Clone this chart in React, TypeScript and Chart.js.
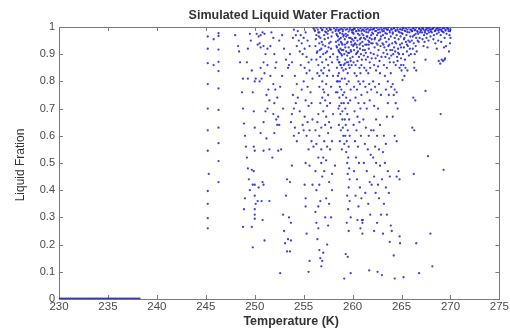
import { useEffect, useRef } from 'react';
import { Chart, registerables } from 'chart.js';

Chart.register(...registerables);

type P = [number, number];

const xTickValues = [230, 235, 240, 245, 250, 255, 260, 265, 270, 275];
const yTickValues = [0, 0.1, 0.2, 0.3, 0.4, 0.5, 0.6, 0.7, 0.8, 0.9, 1];
const yTickLabels = ['0', '0.1', '0.2', '0.3', '0.4', '0.5', '0.6', '0.7', '0.8', '0.9', '1'];

const chartTitle = 'Simulated Liquid Water Fraction';
const xTitle = 'Temperature (K)';
const yTitle = 'Liquid Fration';

// fully frozen samples (fraction 0)
const frozenTemps = [230.0, 230.2, 230.4, 230.6, 230.8, 231.0, 231.2, 231.4, 231.6, 231.8, 232.0, 232.2, 232.4, 232.6, 232.8, 233.0, 233.2, 233.4, 233.6, 233.8, 234.0, 234.2, 234.4, 234.6, 234.8, 235.0, 235.2, 235.4, 235.6, 235.8, 236.0, 236.2, 236.4, 236.6, 236.8, 237.0, 237.2, 237.4, 237.6, 237.8, 238.0, 238.2];

const band245: P[] = [[245.2,0.965],[245.2,0.92],[245.2,0.867],[245.2,0.79],[245.2,0.70],[245.2,0.62],[245.2,0.545],[245.3,0.46],[245.2,0.397],[245.2,0.35],[245.2,0.297],[245.2,0.26],[246.3,0.977],[246.3,0.967],[246.3,0.917],[246.3,0.872],[246.3,0.838],[246.3,0.774],[246.3,0.695],[246.3,0.63],[246.3,0.573],[246.3,0.507],[246.3,0.43],[245.8,0.955],[245.8,0.86]];

const band248: P[] = [[248.0,0.97],[248.3,0.93],[248.4,0.91],[248.5,0.87],[248.8,0.81],[248.7,0.76],[248.8,0.70],[248.9,0.645],[249.0,0.60],[249.1,0.56],[249.2,0.52],[249.3,0.48],[249.4,0.44],[249.5,0.40],[249.0,0.37],[248.9,0.33],[248.8,0.265],[249.7,0.265],[249.8,0.19],[249.2,0.87],[249.3,0.81],[249.5,0.975],[249.6,0.95],[249.3,0.92],[249.7,0.84],[249.8,0.76],[250.0,0.80],[250.1,0.81],[249.9,0.69],[250.0,0.63],[249.9,0.56],[250.0,0.545],[249.7,0.475],[249.9,0.47],[249.8,0.42],[250.0,0.42],[250.0,0.38],[250.1,0.35],[250.0,0.33],[250.0,0.31],[250.0,0.295],[250.3,0.36],[250.4,0.41],[250.8,0.43],[250.9,0.42],[250.8,0.29],[250.7,0.36],[251.5,0.36],[250.2,0.975],[250.4,0.965],[250.6,0.97],[250.8,0.98],[251.0,0.975],[250.5,0.94],[250.3,0.935],[250.6,0.925],[250.9,0.93],[251.1,0.9],[251.3,0.92],[251.6,0.93],[250.9,0.87],[250.6,0.85],[251.3,0.86],[251.0,0.83],[250.5,0.8],[250.7,0.81],[251.6,0.82],[251.2,0.75],[251.4,0.77],[251.5,0.73],[251.3,0.7],[251.1,0.69],[250.9,0.65],[250.6,0.61],[251.2,0.59],[250.9,0.545],[251.5,0.55],[251.0,0.215],[251.7,0.98],[251.9,0.96],[252.0,0.9],[252.1,0.85],[252.2,0.87],[251.9,0.79],[252.1,0.77],[252.3,0.74],[252.0,0.72],[251.9,0.68],[252.2,0.66],[252.3,0.64],[252.5,0.64],[252.4,0.67],[252.0,0.61],[252.4,0.545],[251.8,0.52],[252.7,0.55],[252.8,0.82],[252.6,0.78],[252.9,0.7],[252.5,0.95],[252.8,0.97],[253.0,0.92]];

const band253: P[] = [[252.6,0.095],[253.1,0.205],[253.3,0.175],[253.6,0.175],[253.4,0.22],[253.7,0.215],[252.9,0.31],[253.2,0.38],[253.0,0.25],[253.5,0.3],[253.7,0.28],[253.3,0.44],[253.6,0.43],[253.8,0.49],[253.5,0.86],[253.8,0.87],[253.6,0.9],[253.9,0.96],[253.2,0.88],[253.4,0.85],[254.1,0.82],[254.3,0.79],[253.9,0.75],[254.0,0.7],[254.2,0.72],[253.8,0.68],[254.4,0.74],[254.6,0.69],[254.1,0.63],[254.5,0.61],[254.9,0.64],[254.3,0.58],[254.0,0.6],[253.7,0.65],[254.0,0.99],[254.2,0.97],[254.4,0.985],[254.5,0.95],[254.7,0.97],[254.8,0.94],[254.3,0.93],[254.6,0.91],[254.9,0.9],[255.1,0.92],[255.0,0.96],[255.2,0.98],[255.4,0.95],[255.6,0.93],[255.3,0.89],[255.5,0.87],[255.8,0.88],[255.1,0.85],[254.7,0.86],[255.3,0.83],[255.6,0.84],[255.9,0.81],[255.0,0.8],[255.4,0.78],[255.7,0.76],[254.8,0.77],[255.2,0.73],[255.5,0.71],[255.8,0.72],[255.1,0.67],[255.4,0.65],[255.9,0.66],[255.6,0.62],[255.3,0.6],[255.8,0.58],[255.5,0.55],[255.2,0.5],[255.6,0.49],[255.0,0.62],[255.1,0.42],[255.2,0.37],[255.2,0.34],[255.3,0.24],[255.6,0.14],[255.5,0.1],[255.9,0.42],[256.0,0.56]];

const band256: P[] = [[256.2,0.32],[256.3,0.28],[256.5,0.26],[256.4,0.22],[256.6,0.18],[256.7,0.15],[256.8,0.12],[256.9,0.14],[257.0,0.17],[257.4,0.2],[256.5,0.34],[256.7,0.36],[256.3,0.4],[256.6,0.42],[256.9,0.45],[257.1,0.47],[256.8,0.5],[257.2,0.3],[257.5,0.27],[257.8,0.3],[257.6,0.35],[257.3,0.37],[257.9,0.4],[257.6,0.43],[257.9,0.46],[258.2,0.49],[256.2,0.62],[256.4,0.65],[256.6,0.6],[256.8,0.63],[256.5,0.68],[256.7,0.72],[256.9,0.74],[257.0,0.77],[256.6,0.78],[256.9,0.8],[257.1,0.76],[257.3,0.79],[257.2,0.73],[257.4,0.71],[257.5,0.75],[257.7,0.72],[257.3,0.67],[257.6,0.65],[257.0,0.69],[257.2,0.64],[257.5,0.61],[257.8,0.63],[257.1,0.58],[257.4,0.56],[257.7,0.55],[257.9,0.58],[258.0,0.68],[257.8,0.78],[258.0,0.82],[256.8,0.55],[256.5,0.52],[257.0,0.52],[257.3,0.51],[256.3,0.57],[256.2,0.47],[256.1,0.99],[256.3,0.97],[256.5,0.98],[256.7,0.96],[256.9,0.99],[257.1,0.97],[257.3,0.98],[257.5,0.96],[257.7,0.99],[256.2,0.93],[256.4,0.91],[256.6,0.94],[256.8,0.92],[257.0,0.9],[257.2,0.93],[257.4,0.91],[257.6,0.94],[257.8,0.92],[256.3,0.88],[256.5,0.86],[256.7,0.89],[256.9,0.87],[257.1,0.85],[257.3,0.88],[257.5,0.86],[257.7,0.89],[257.9,0.87],[256.4,0.83],[256.6,0.82],[256.8,0.84],[257.0,0.83],[257.4,0.82],[257.6,0.84],[258.0,0.9]];

const band258: P[] = [[258.3,0.99],[258.4,0.97],[258.5,0.95],[258.35,0.93],[258.6,0.91],[258.45,0.89],[258.7,0.99],[258.8,0.96],[258.55,0.985],[258.9,0.94],[258.75,0.92],[258.65,0.87],[258.85,0.9],[258.95,0.975],[258.4,0.85],[258.6,0.83],[258.8,0.86],[258.5,0.8],[258.7,0.78],[258.9,0.81],[258.45,0.76],[258.65,0.74],[258.85,0.72],[258.55,0.7],[258.75,0.68],[258.95,0.66],[258.6,0.64],[258.8,0.62],[258.7,0.58],[258.9,0.55]];

const band259: P[] = [[259.0,0.99],[259.1,0.97],[259.2,0.955],[259.3,0.99],[259.4,0.94],[259.5,0.97],[259.6,0.925],[259.7,0.99],[259.8,0.96],[259.9,0.935],[259.05,0.915],[259.15,0.9],[259.25,0.88],[259.35,0.91],[259.45,0.895],[259.55,0.87],[259.65,0.905],[259.75,0.885],[259.85,0.91],[259.95,0.98],[259.1,0.86],[259.3,0.845],[259.5,0.83],[259.7,0.85],[259.9,0.86],[259.2,0.81],[259.4,0.79],[259.6,0.8],[259.8,0.77],[259.15,0.76],[259.35,0.74],[259.55,0.72],[259.75,0.73],[259.25,0.7],[259.45,0.68],[259.65,0.66],[259.3,0.64],[259.5,0.62],[259.7,0.6],[259.4,0.58],[259.6,0.56],[259.35,0.54],[259.55,0.52],[259.45,0.5],[259.65,0.48],[259.5,0.46],[259.7,0.44],[259.6,0.41],[259.45,0.38],[259.7,0.36],[259.55,0.33],[259.8,0.3],[259.4,0.28],[259.6,0.25],[259.3,0.165],[259.5,0.155],[259.15,0.075],[259.8,0.095]];

const band260: P[] = [[260.0,0.99],[260.1,0.975],[260.2,0.995],[260.3,0.96],[260.4,0.985],[260.5,0.95],[260.6,0.99],[260.7,0.97],[260.8,0.94],[260.9,0.985],[260.05,0.93],[260.15,0.915],[260.25,0.94],[260.35,0.9],[260.45,0.925],[260.55,0.91],[260.65,0.89],[260.75,0.92],[260.85,0.9],[260.95,0.88],[260.1,0.87],[260.3,0.86],[260.5,0.875],[260.7,0.85],[260.9,0.86],[260.2,0.83],[260.4,0.82],[260.6,0.8],[260.8,0.83],[260.15,0.78],[260.45,0.77],[260.75,0.79],[260.3,0.74],[260.6,0.72],[260.9,0.75],[260.2,0.69],[260.5,0.67],[260.8,0.7],[260.1,0.64],[260.4,0.62],[260.7,0.65],[260.25,0.58],[260.55,0.56],[260.85,0.6],[260.35,0.52],[260.65,0.5],[260.15,0.47],[260.45,0.44],[260.75,0.41],[260.3,0.38],[260.6,0.34],[260.9,0.37],[260.5,0.29],[260.8,0.26],[260.95,0.29],[261.0,0.24]];

const band261: P[] = [[261.0,0.99],[261.1,0.97],[261.2,0.985],[261.3,0.955],[261.4,0.99],[261.5,0.965],[261.6,0.98],[261.7,0.945],[261.8,0.99],[261.9,0.97],[261.05,0.93],[261.25,0.915],[261.45,0.935],[261.65,0.92],[261.85,0.905],[261.15,0.895],[261.35,0.88],[261.55,0.89],[261.75,0.87],[261.95,0.885],[261.2,0.85],[261.4,0.84],[261.6,0.83],[261.8,0.85],[261.1,0.8],[261.3,0.78],[261.5,0.76],[261.7,0.79],[261.9,0.77],[261.2,0.72],[261.45,0.7],[261.75,0.73],[261.1,0.66],[261.35,0.63],[261.65,0.6],[261.9,0.62],[261.25,0.57],[261.55,0.55],[261.85,0.53],[261.15,0.5],[261.45,0.47],[261.75,0.43],[261.95,0.42],[261.3,0.39],[261.6,0.35],[261.8,0.31],[261.0,0.28],[261.05,0.29],[261.7,0.105]];

const band262: P[] = [[262.0,0.99],[262.1,0.975],[262.2,0.995],[262.3,0.96],[262.4,0.985],[262.5,0.97],[262.6,0.99],[262.7,0.95],[262.8,0.98],[262.9,0.965],[262.05,0.94],[262.25,0.925],[262.45,0.94],[262.65,0.915],[262.85,0.93],[262.15,0.9],[262.35,0.885],[262.55,0.895],[262.75,0.875],[262.95,0.89],[262.2,0.86],[262.4,0.84],[262.6,0.855],[262.8,0.83],[262.1,0.8],[262.3,0.78],[262.5,0.76],[262.7,0.79],[262.9,0.75],[262.2,0.71],[262.6,0.7],[262.4,0.66],[262.8,0.64],[262.15,0.62],[262.5,0.6],[262.3,0.56],[262.7,0.55],[262.1,0.52],[262.4,0.5],[262.8,0.49],[262.2,0.45],[262.6,0.42],[262.35,0.39],[262.7,0.37],[262.9,0.31],[262.5,0.28],[262.2,0.25],[262.55,0.1],[263.0,0.088]];

const band263: P[] = [[263.0,0.99],[263.1,0.97],[263.2,0.985],[263.3,0.96],[263.4,0.995],[263.5,0.975],[263.6,0.99],[263.7,0.955],[263.8,0.98],[263.9,0.965],[263.05,0.94],[263.25,0.925],[263.45,0.945],[263.65,0.93],[263.85,0.915],[263.15,0.905],[263.35,0.89],[263.55,0.9],[263.75,0.885],[263.95,0.895],[263.2,0.86],[263.5,0.85],[263.8,0.87],[263.3,0.82],[263.6,0.8],[263.9,0.83],[263.4,0.77],[263.7,0.75],[263.95,0.78],[263.6,0.72],[263.5,0.67],[263.2,0.6],[263.4,0.57],[263.1,0.54],[263.3,0.5],[263.6,0.47],[263.0,0.44],[263.8,0.45],[263.4,0.41],[263.7,0.39],[263.2,0.35],[263.5,0.31],[263.9,0.27],[263.1,0.24],[263.8,0.21]];

const band264: P[] = [[264.0,0.99],[264.1,0.975],[264.2,0.995],[264.3,0.96],[264.4,0.985],[264.5,0.97],[264.6,0.99],[264.7,0.955],[264.8,0.98],[264.9,0.965],[264.05,0.94],[264.25,0.925],[264.45,0.94],[264.65,0.92],[264.85,0.935],[264.15,0.9],[264.35,0.91],[264.55,0.89],[264.75,0.9],[264.95,0.885],[264.2,0.87],[264.4,0.86],[264.6,0.875],[264.8,0.85],[264.95,0.86],[264.1,0.79],[264.3,0.77],[264.5,0.76],[264.2,0.75],[264.4,0.72],[264.6,0.7],[264.1,0.67],[264.3,0.6],[264.5,0.58],[264.7,0.47],[264.8,0.44],[264.5,0.45],[264.0,0.25],[264.2,0.16],[264.3,0.075],[264.8,0.23],[264.85,0.205]];

const band265: P[] = [[265.0,0.99],[265.1,0.975],[265.2,0.995],[265.3,0.96],[265.4,0.985],[265.5,0.97],[265.6,0.99],[265.7,0.95],[265.8,0.98],[265.9,0.965],[265.05,0.94],[265.25,0.925],[265.45,0.945],[265.65,0.93],[265.85,0.92],[265.15,0.9],[265.35,0.88],[265.55,0.91],[265.75,0.895],[265.95,0.9],[265.2,0.86],[265.4,0.85],[265.6,0.84],[265.3,0.82],[265.1,0.805],[265.2,0.08],[265.0,0.84]];

const band266: P[] = [[266.0,0.99],[266.1,0.985],[266.2,0.995],[266.3,0.97],[266.4,0.99],[266.5,0.96],[266.6,0.985],[266.7,0.975],[266.8,0.995],[266.9,0.98],[266.05,0.95],[266.25,0.94],[266.45,0.93],[266.65,0.95],[266.85,0.96],[266.15,0.92],[266.35,0.9],[266.55,0.91],[266.3,0.87],[266.5,0.84],[266.3,0.85],[266.2,0.74],[266.4,0.73],[266.1,0.63],[266.3,0.62],[266.25,0.46],[266.5,0.205],[266.8,0.095]];

const band267: P[] = [[267.0,0.99],[267.1,0.98],[267.2,0.995],[267.3,0.97],[267.4,0.985],[267.5,0.99],[267.6,0.975],[267.7,0.995],[267.8,0.98],[267.9,0.99],[267.15,0.955],[267.35,0.945],[267.55,0.96],[267.75,0.95],[267.95,0.965],[267.25,0.93],[267.65,0.925],[267.45,0.88],[267.45,0.765],[267.7,0.525],[267.95,0.24],[268.15,0.12]];

const band268: P[] = [[268.0,0.99],[268.1,0.98],[268.2,0.995],[268.3,0.97],[268.4,0.985],[268.5,0.99],[268.6,0.975],[268.7,0.995],[268.8,0.98],[268.9,0.99],[269.0,0.97],[269.1,0.985],[269.2,0.995],[269.3,0.98],[269.4,0.96],[269.5,0.99],[269.6,0.975],[269.7,0.995],[269.8,0.985],[269.9,0.97],[270.0,0.99],[270.0,0.96],[269.95,0.94],[268.25,0.955],[268.45,0.94],[268.75,0.95],[269.05,0.945],[269.35,0.925],[269.55,0.93],[269.85,0.91],[268.8,0.875],[268.95,0.865],[269.1,0.88],[269.25,0.875],[269.4,0.88],[269.45,0.885],[269.0,0.68],[269.3,0.475],[268.6,0.92]];

const topBand: P[] = [[256.0,0.995],[256.15,0.985],[256.3,0.998],[256.45,0.99],[256.6,0.98],[256.75,0.996],[256.9,0.988],[257.05,0.999],[257.2,0.983],[257.35,0.993],[257.5,0.986],[257.65,0.997],[257.8,0.99],[257.95,0.98],[258.1,0.995],[258.25,0.985],[258.4,0.998],[258.55,0.99],[258.7,0.978],[258.85,0.994],[259.0,0.984],[259.15,0.998],[259.3,0.975],[259.45,0.992],[259.6,0.983],[259.75,0.997],[259.9,0.988],[260.05,0.979],[260.2,0.993],[260.35,0.984],[260.5,0.998],[260.65,0.986],[260.8,0.995],[260.95,0.976],[261.1,0.99],[261.25,0.998],[261.4,0.981],[261.55,0.994],[261.7,0.987],[261.85,0.998],[262.0,0.979],[262.15,0.992],[262.3,0.985],[262.45,0.997],[262.6,0.978],[262.75,0.991],[262.9,0.998],[263.05,0.984],[263.2,0.994],[263.35,0.977],[263.5,0.99],[263.65,0.998],[263.8,0.986],[263.95,0.993],[264.1,0.98],[264.25,0.996],[264.4,0.988],[264.55,0.998],[264.7,0.983],[264.85,0.992],[265.0,0.978],[265.15,0.997],[265.3,0.987],[265.45,0.995],[265.6,0.981],[265.75,0.998],[265.9,0.99],[266.05,0.984],[266.2,0.996],[266.35,0.988],[266.5,0.998],[266.65,0.982],[266.8,0.993],[266.95,0.986],[267.1,0.997],[267.25,0.99],[267.4,0.979],[267.55,0.996],[267.7,0.987],[267.85,0.998],[268.0,0.983],[268.15,0.992],[268.3,0.998],[268.45,0.986],[268.6,0.995],[268.75,0.988],[268.9,0.998],[269.05,0.99],[269.2,0.983],[269.35,0.996],[269.5,0.987],[269.65,0.998],[269.8,0.992],[269.95,0.984]];

const coreCluster: P[] = [[258.35,0.975],[258.5,0.965],[258.65,0.955],[258.8,0.945],[258.95,0.935],[258.4,0.925],[258.55,0.915],[258.7,0.905],[258.9,0.895],[259.05,0.965],[259.2,0.935],[259.35,0.965],[259.5,0.945],[259.65,0.96],[259.8,0.915],[259.95,0.955],[260.1,0.95],[260.25,0.96],[260.4,0.935],[260.55,0.975],[260.7,0.935],[260.85,0.96],[261.0,0.945],[261.15,0.96],[261.3,0.935],[261.45,0.965],[261.6,0.95],[261.75,0.96],[261.9,0.94],[258.45,0.88],[258.6,0.87],[258.75,0.86],[258.9,0.85],[259.05,0.84],[259.2,0.865],[259.4,0.87],[259.6,0.86],[259.8,0.875],[260.0,0.89],[258.5,0.82],[258.7,0.8],[258.85,0.77],[259.0,0.75],[259.1,0.72],[258.65,0.71],[258.95,0.69],[259.2,0.66],[259.0,0.63]];

const denseFill: P[] = [[256.25,0.955],[256.55,0.965],[256.85,0.945],[257.15,0.955],[257.45,0.975],[257.75,0.945],[256.35,0.905],[256.65,0.915],[256.95,0.935],[257.25,0.905],[257.55,0.925],[257.85,0.965],[258.3,0.945],[258.6,0.935],[258.9,0.915],[259.25,0.925],[259.55,0.905],[259.85,0.945],[260.15,0.935],[260.45,0.905],[260.75,0.955],[261.05,0.915],[261.35,0.905],[261.65,0.935],[261.95,0.955],[262.25,0.955],[262.55,0.935],[262.85,0.955],[263.15,0.935],[263.45,0.915],[263.75,0.935],[264.05,0.915],[264.35,0.945],[264.65,0.905],[264.95,0.925],[265.25,0.955],[265.55,0.935],[265.85,0.945],[266.15,0.965],[266.45,0.975],[266.75,0.945],[258.4,0.8],[258.3,0.76],[259.05,0.6],[259.15,0.57],[259.25,0.6]];

const FONT = "'Liberation Sans', Arial, sans-serif";

const framePlugin = {
  id: 'frame',
  beforeDatasetsDraw(chart: any) {
    const { ctx, chartArea: a, scales } = chart;
    ctx.save();
    ctx.strokeStyle = '#7a7a7a';
    ctx.lineWidth = 1;
    ctx.strokeRect(Math.round(a.left) + 0.5, Math.round(a.top) + 0.5, Math.round(a.right - a.left), Math.round(a.bottom - a.top));
    const tl = 4;
    ctx.beginPath();
    xTickValues.forEach((v) => {
      const x = Math.round(scales.x.getPixelForValue(v)) + 0.5;
      ctx.moveTo(x, a.bottom); ctx.lineTo(x, a.bottom - tl);
      ctx.moveTo(x, a.top); ctx.lineTo(x, a.top + tl);
    });
    yTickValues.forEach((v) => {
      const y = Math.round(scales.y.getPixelForValue(v)) + 0.5;
      ctx.moveTo(a.left, y); ctx.lineTo(a.left + tl, y);
      ctx.moveTo(a.right, y); ctx.lineTo(a.right - tl, y);
    });
    ctx.stroke();
    ctx.restore();
  },
  afterDraw(chart: any) {
    const { ctx, chartArea: a } = chart;
    const cx = (a.left + a.right) / 2;
    ctx.save();
    ctx.fillStyle = '#333';
    ctx.textAlign = 'center';
    ctx.textBaseline = 'middle';
    ctx.font = `bold 12.5px ${FONT}`;
    ctx.fillText(chartTitle, cx + 5, a.top - 11);
    ctx.font = `bold 12.5px ${FONT}`;
    ctx.fillText(xTitle, cx + 12, a.bottom + 23);
    ctx.font = `12px ${FONT}`;
    ctx.translate(21, (a.top + a.bottom) / 2 + 2);
    ctx.rotate(-Math.PI / 2);
    ctx.fillText(yTitle, 0, 0);
    ctx.restore();
  },
};

export default function App() {
  const ref = useRef<HTMLCanvasElement>(null);
  useEffect(() => {
    const scattered: P[] = [
      ...band245, ...band248, ...band253, ...band256, ...band258, ...band259, ...band260,
      ...band261, ...band262, ...band263, ...band264, ...band265, ...band266, ...band267,
      ...band268, ...topBand, ...coreCluster, ...denseFill,
    ];
    const frozen = frozenTemps.map((t) => ({ x: t, y: 0 }));
    const pts = scattered.map(([x, y]) => ({ x, y }));
    const chart = new Chart(ref.current!, {
      type: 'scatter',
      data: {
        datasets: [
          { data: pts, pointRadius: 1.15, pointBackgroundColor: 'rgba(30,30,215,0.85)', pointBorderWidth: 0, pointHoverRadius: 1.15 },
          { data: frozen, pointRadius: 1.4, pointBackgroundColor: 'rgba(30,30,215,0.9)', pointBorderWidth: 0, pointHoverRadius: 1.4 },
        ],
      },
      options: {
        animation: false,
        responsive: false,
        events: [],
        layout: { padding: { top: 27, right: 10, left: 0, bottom: 0 } },
        plugins: { legend: { display: false }, tooltip: { enabled: false }, title: { display: false } },
        scales: {
          x: {
            type: 'linear',
            min: 230,
            max: 275,
            grid: { display: false, drawTicks: false },
            border: { display: false },
            afterBuildTicks: (s: any) => { s.ticks = xTickValues.map((v) => ({ value: v })); },
            ticks: { font: { family: FONT, size: 11.5 }, color: '#4a4a4a', padding: 1, maxRotation: 0, autoSkip: false },
            afterFit: (s: any) => { s.height = 29; },
          },
          y: {
            type: 'linear',
            min: 0,
            max: 1,
            grid: { display: false, drawTicks: false },
            border: { display: false },
            afterBuildTicks: (s: any) => { s.ticks = yTickValues.map((v) => ({ value: v })); },
            ticks: {
              font: { family: FONT, size: 11 },
              color: '#4a4a4a',
              padding: 4,
              autoSkip: false,
              callback: (_v: any, i: number) => yTickLabels[i],
            },
            afterFit: (s: any) => { s.width = 59; },
          },
        },
      },
      plugins: [framePlugin],
    });
    return () => chart.destroy();
  }, []);
  return (
    <div style={{ position: 'fixed', left: 0, top: 0, width: 510, height: 328, background: '#fff' }}>
      <canvas ref={ref} width={510} height={328} style={{ display: 'block' }} />
    </div>
  );
}
